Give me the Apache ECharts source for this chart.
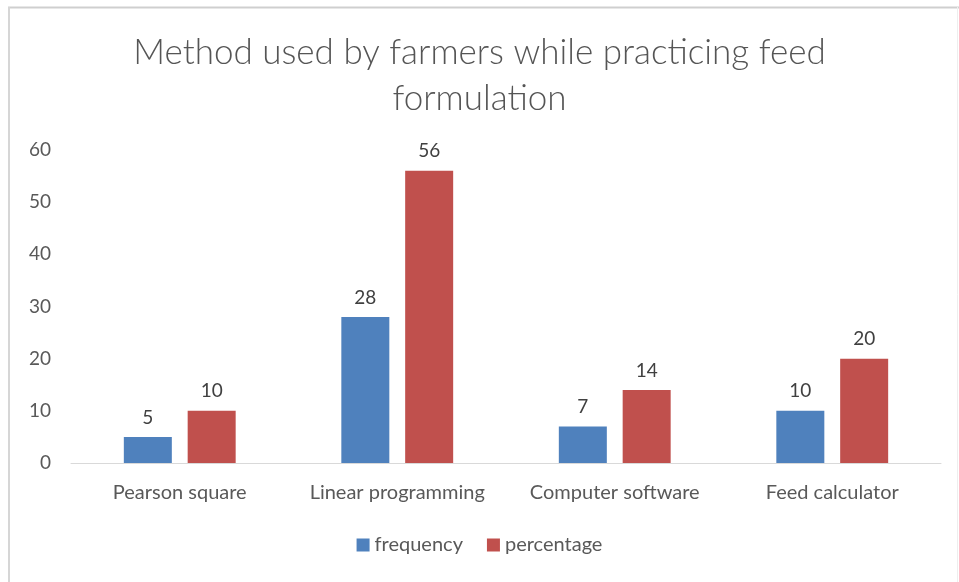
<!DOCTYPE html>
<html>
<head>
<meta charset="utf-8">
<script src="https://cdn.jsdelivr.net/npm/echarts@6/dist/echarts.min.js"></script>
<style>
  html, body { margin: 0; padding: 0; background: #fff; }
  #chart { width: 959px; height: 582px; }
</style>
</head>
<body>
<div id="chart"></div>
<script>
// Feed formulation methods
const categories = ['Pearson square', 'Linear programming', 'Computer software', 'Feed calculator'];
const frequency = [5, 28, 7, 10];
const percentage = [10, 56, 14, 20];
const yTicks = [0, 10, 20, 30, 40, 50, 60];

const textColor = '#595959';
const fontFamily = 'Lato, "Open Sans", sans-serif';

const chart = echarts.init(document.getElementById('chart'));

const labelStyle = {
  show: true,
  position: 'top',
  distance: 10,
  color: '#404040',
  fontSize: 19,
  fontFamily: fontFamily
};

chart.setOption({
  animation: false,
  backgroundColor: '#ffffff',
  title: {
    text: 'Method used by farmers while practicing feed\nformulation',
    left: 'center',
    top: 25,
    textStyle: {
      color: '#555555',
      fontSize: 35,
      fontWeight: 300,
      fontFamily: fontFamily,
      lineHeight: 46
    }
  },
  legend: {
    bottom: 22,
    left: 'center',
    itemWidth: 13,
    itemHeight: 13,
    itemGap: 24,
    icon: 'rect',
    textStyle: { color: textColor, fontSize: 20, fontFamily: fontFamily },
    data: ['frequency', 'percentage']
  },
  grid: {
    left: 71,
    right: 18,
    top: 150,
    bottom: 119,
    containLabel: false
  },
  xAxis: {
    type: 'category',
    data: categories,
    axisLine: { show: true, lineStyle: { color: '#d9d9d9', width: 1 } },
    axisTick: { show: false },
    axisLabel: {
      interval: 0,
      color: textColor,
      fontSize: 20,
      fontFamily: fontFamily,
      margin: 20
    }
  },
  yAxis: {
    type: 'value',
    min: yTicks[0],
    max: yTicks[yTicks.length - 1],
    interval: yTicks[1] - yTicks[0],
    axisLine: { show: false },
    axisTick: { show: false },
    splitLine: { show: false },
    axisLabel: {
      color: textColor,
      fontSize: 19,
      fontFamily: fontFamily,
      margin: 20
    }
  },
  series: [
    {
      name: 'frequency',
      type: 'bar',
      data: frequency,
      barWidth: 48,
      barGap: '33%',
      itemStyle: { color: '#4F81BD' },
      label: labelStyle
    },
    {
      name: 'percentage',
      type: 'bar',
      data: percentage,
      barWidth: 48,
      itemStyle: { color: '#C0504D' },
      label: labelStyle
    }
  ],
  graphic: [
    {
      type: 'line',
      shape: { x1: 8, y1: 7.5, x2: 959, y2: 7.5 },
      style: { stroke: '#cfcfcf', lineWidth: 2 },
      silent: true
    },
    {
      type: 'line',
      shape: { x1: 9, y1: 7, x2: 9, y2: 582 },
      style: { stroke: '#d6d6d6', lineWidth: 2 },
      silent: true
    },
    {
      type: 'line',
      shape: { x1: 957.5, y1: 7, x2: 957.5, y2: 582 },
      style: { stroke: '#eeeeee', lineWidth: 1 },
      silent: true
    }
  ]
});
</script>
</body>
</html>
